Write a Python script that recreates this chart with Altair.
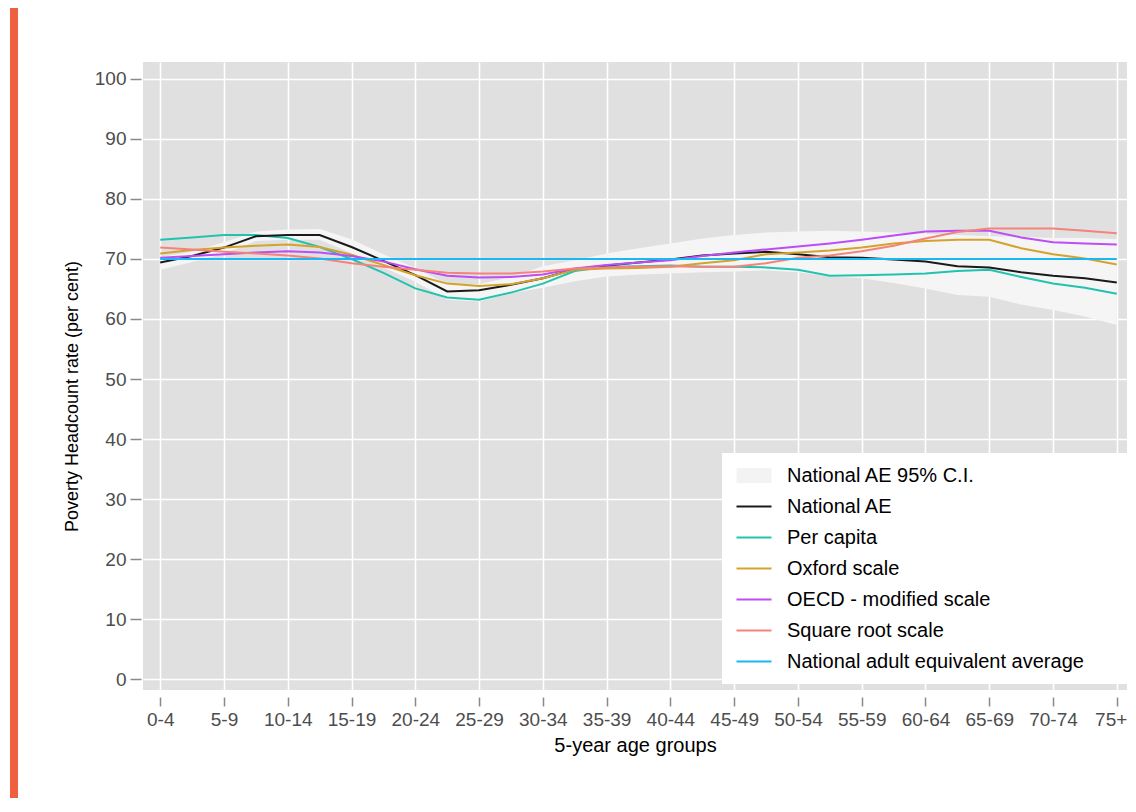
import altair as alt
import pandas as pd

# ---- data ----
age_groups = ["0-4", "5-9", "10-14", "15-19", "20-24", "25-29", "30-34", "35-39",
              "40-44", "45-49", "50-54", "55-59", "60-64", "65-69", "70-74", "75+"]

age_pos = [0, 0.5, 1, 1.5, 2, 2.5, 3, 3.5, 4, 4.5, 5, 5.5, 6, 6.5, 7, 7.5,
           8, 8.5, 9, 9.5, 10, 10.5, 11, 11.5, 12, 12.5, 13, 13.5, 14, 14.5, 15]

national_ae = [69.4, 70.5, 71.9, 73.8, 74.0, 74.0, 72.0, 69.7, 67.3, 64.6, 64.8, 65.7,
               66.8, 68.3, 68.9, 69.4, 69.9, 70.6, 70.9, 71.2, 70.8, 70.3, 70.2, 69.9,
               69.6, 68.8, 68.6, 67.8, 67.2, 66.8, 66.1]
per_capita = [73.2, 73.6, 74.0, 74.0, 73.5, 72.0, 70.0, 67.7, 65.1, 63.6, 63.2, 64.4,
              65.9, 68.0, 68.7, 68.8, 68.9, 68.7, 68.7, 68.6, 68.2, 67.2, 67.3, 67.4,
              67.6, 68.0, 68.2, 67.0, 65.9, 65.2, 64.2]
oxford = [70.9, 71.5, 71.9, 72.2, 72.4, 72.0, 70.7, 69.0, 67.3, 65.9, 65.5, 65.8,
          66.8, 68.2, 68.4, 68.5, 68.7, 69.3, 69.8, 70.8, 71.1, 71.4, 71.9, 72.6,
          73.0, 73.2, 73.2, 71.8, 70.8, 70.1, 69.1]
oecd = [70.2, 70.5, 70.8, 71.1, 71.3, 71.1, 70.5, 69.6, 68.3, 67.2, 66.9, 67.0,
        67.4, 68.4, 69.0, 69.4, 69.8, 70.5, 71.1, 71.6, 72.1, 72.6, 73.2, 73.9,
        74.6, 74.7, 74.7, 73.6, 72.8, 72.6, 72.4]
sqrt_scale = [71.9, 71.6, 71.2, 70.9, 70.6, 70.1, 69.3, 68.7, 68.2, 67.7, 67.6, 67.6,
              67.9, 68.4, 68.6, 68.7, 68.8, 68.7, 68.7, 69.3, 70.2, 70.6, 71.3, 72.2,
              73.4, 74.5, 75.1, 75.1, 75.1, 74.7, 74.3]
ci_lower = [68.2, 69.5, 70.9, 73.0, 73.2, 73.2, 71.0, 68.6, 66.2, 63.2, 62.9, 64.3,
            65.2, 66.3, 67.1, 67.4, 67.6, 67.8, 67.9, 68.1, 67.8, 67.1, 66.8, 66.0,
            65.1, 64.0, 63.7, 62.4, 61.5, 60.4, 59.0]
ci_upper = [70.3, 71.2, 72.8, 74.6, 74.9, 75.0, 73.3, 70.8, 68.5, 65.8, 65.8, 67.0,
            68.8, 69.8, 70.9, 71.8, 72.6, 73.4, 74.0, 74.4, 74.6, 74.7, 74.6, 74.4,
            74.2, 74.0, 73.8, 73.7, 73.5, 73.5, 73.3]
avg_pos = [0, 15]
national_avg = [70.0, 70.0]

series_names = ["National AE 95% C.I.", "National AE", "Per capita", "Oxford scale",
                "OECD - modified scale", "Square root scale",
                "National adult equivalent average"]
series_colors = ["#F3F3F3", "#1A1A1A", "#22C3AE", "#D4A32E", "#BD4DF7", "#F6837A", "#1CB7F2"]
series_widths = [15, 2, 2, 2, 2, 2, 2]

# ---- tables ----
rows = []
for name, vals in [(series_names[2], per_capita), (series_names[1], national_ae),
                   (series_names[3], oxford), (series_names[4], oecd),
                   (series_names[5], sqrt_scale)]:
    for p, v in zip(age_pos, vals):
        rows.append({"age": p, "value": v, "series": name})
for p, v in zip(avg_pos, national_avg):
    rows.append({"age": p, "value": v, "series": series_names[6]})
lines_df = pd.DataFrame(rows)

band_df = pd.DataFrame({"age": age_pos, "lo": ci_lower, "hi": ci_upper})

label_expr = "[" + ",".join("'" + g + "'" for g in age_groups) + "][datum.value]"
last_pos = len(age_groups) - 1

FONT = "Liberation Sans"

x_scale = alt.Scale(domain=[-0.27, 15.16], nice=False, zero=False)
y_scale = alt.Scale(domain=[-1.83, 102.83], nice=False, zero=False)

x_axis = alt.Axis(values=list(range(len(age_groups))), labelExpr=label_expr,
                  title="5-year age groups", offset=7, tickSize=9, labelPadding=4,
                  titlePadding=6, domain=False, tickColor="#8a8a8a", tickWidth=1.5,
                  grid=True, gridColor="white", gridWidth=1.6,
                  labelFont=FONT, labelFontSize=19, labelColor="#4d4d4d",
                  labelAlign={"condition": {"test": f"datum.value == {last_pos}",
                                            "value": "right"}, "value": "center"},
                  labelOffset={"condition": {"test": f"datum.value == {last_pos}",
                                             "value": 10}, "value": 0},
                  titleFont=FONT, titleFontSize=20, titleFontWeight="normal",
                  titleColor="black", labelFlush=False)
y_axis = alt.Axis(values=list(range(0, 101, 10)), title="Poverty Headcount rate (per cent)",
                  offset=2, tickSize=11, labelPadding=4, titlePadding=13, domain=False,
                  tickColor="#8a8a8a", tickWidth=1.5, grid=True, gridColor="white",
                  gridWidth=1.6, labelFont=FONT, labelFontSize=19, labelColor="#4d4d4d",
                  titleFont=FONT, titleFontSize=18, titleFontWeight="normal",
                  titleColor="black", titleY=334)

legend = alt.Legend(orient="none", legendX=579, legendY=391,
                    title="\u2800\u2800\u2800", titleOrient="right",
                    titleFont=FONT, titleFontSize=20, titlePadding=0,
                    symbolType="stroke", symbolSize=1225, labelFont=FONT,
                    labelFontSize=20, labelColor="black", fillColor="white",
                    padding=7, rowPadding=0, clipHeight=31, labelOffset=8,
                    labelLimit=500, symbolOpacity=1)

band = alt.Chart(band_df).mark_area(color="#F5F5F5", opacity=1).encode(
    x=alt.X("age:Q", scale=x_scale, axis=x_axis),
    y=alt.Y("lo:Q", scale=y_scale, axis=y_axis),
    y2="hi:Q",
)

lines = alt.Chart(lines_df).mark_line(clip=True).encode(
    x=alt.X("age:Q", scale=x_scale, axis=x_axis),
    y=alt.Y("value:Q", scale=y_scale, axis=y_axis),
    color=alt.Color("series:N", scale=alt.Scale(domain=series_names, range=series_colors),
                    legend=legend),
    strokeWidth=alt.StrokeWidth("series:N",
                                scale=alt.Scale(type="ordinal", domain=series_names,
                                                range=series_widths),
                                legend=legend),
)

side_bar = alt.Chart(band_df).mark_rule(color="#EE6040", strokeWidth=8).encode(
    x=alt.value(-129), y=alt.value(-54), y2=alt.value(736)
)

chart = alt.layer(band, lines, side_bar).properties(
    width=984, height=628,
    background="white",
    autosize=alt.AutoSizeParams(type="none"),
    padding={"left": 135, "top": 54, "right": 1, "bottom": 108},
).configure_view(fill="#E0E0E0", strokeWidth=0)

chart.save("out.html", embed_options={"renderer": "svg", "actions": False})
